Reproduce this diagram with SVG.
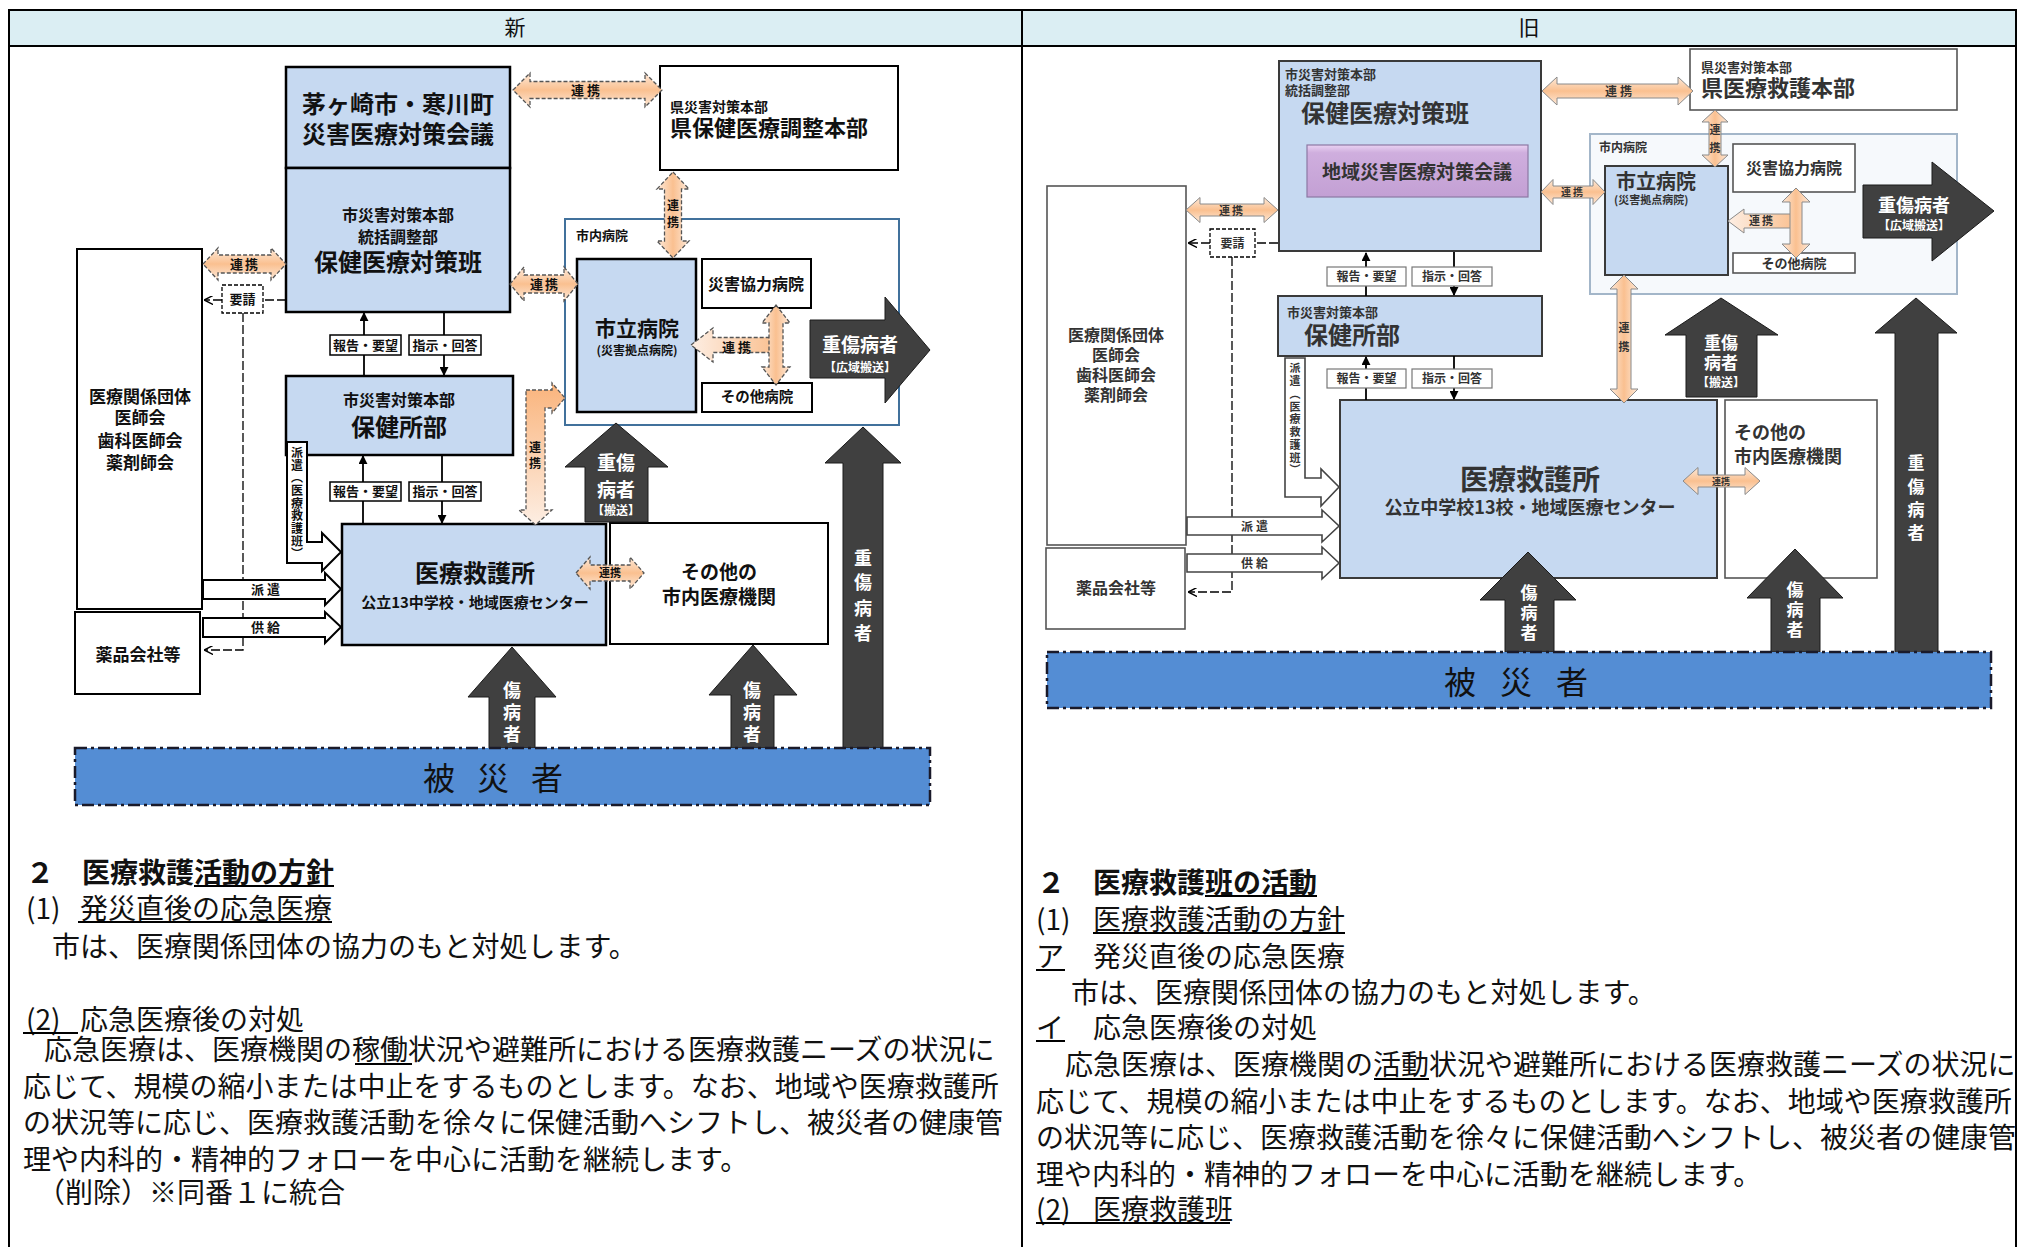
<svg xmlns="http://www.w3.org/2000/svg" width="2020" height="1247" viewBox="0 0 2020 1247">
<defs>
<style>
text{font-family:"Noto Sans CJK JP","Noto Sans CJK SC",sans-serif;fill:#111}
.b{font-weight:700}
.c{text-anchor:middle}
.w{fill:#fff}
.g{fill:#333}
.box{fill:#c6d9f1;stroke:#000;stroke-width:2.5}
.boxr{fill:#c6d9f1;stroke:#3a3a3a;stroke-width:2}
.wb{fill:#fff;stroke:#000;stroke-width:2}
.wbr{fill:#fff;stroke:#555;stroke-width:1.6}
.oh{fill:url(#ogh);stroke:#555;stroke-width:1.3;stroke-dasharray:4 2}
.ov{fill:url(#ogv);stroke:#555;stroke-width:1.3;stroke-dasharray:4 2}
.ohr{fill:url(#ogh);stroke:#8a8a8a;stroke-width:1}
.ovr{fill:url(#ogv);stroke:#8a8a8a;stroke-width:1}
.dk{fill:#404040;stroke:#1a1a1a;stroke-width:1}
.ol{fill:#fff;stroke:#000;stroke-width:2}
.olr{fill:#fff;stroke:#444;stroke-width:1.6}
.ln{stroke:#000;stroke-width:1.8;fill:none}
.dl{stroke:#000;stroke-width:1.3;fill:none;stroke-dasharray:9 3}
.lbl{fill:#fff;stroke:#000;stroke-width:1.5}
.lblr{fill:#fff;stroke:#777;stroke-width:1.2}
.dbox{fill:#fff;stroke:#000;stroke-width:1.3;stroke-dasharray:4 2}
.bar{fill:#548dd4;stroke:#1a1a2a;stroke-width:2.5;stroke-dasharray:12 4 3 4}
.body{font-size:28px}
.ul{stroke:#000;stroke-width:2}
</style>
<linearGradient id="ogh" x1="0" y1="0" x2="0" y2="1">
<stop offset="0" stop-color="#fde9d9"/><stop offset="0.5" stop-color="#fac090"/><stop offset="1" stop-color="#fde9d9"/>
</linearGradient>
<linearGradient id="ogv" x1="0" y1="0" x2="1" y2="0">
<stop offset="0" stop-color="#fde9d9"/><stop offset="0.5" stop-color="#fac090"/><stop offset="1" stop-color="#fde9d9"/>
</linearGradient>
<linearGradient id="ogd" x1="0" y1="0" x2="0" y2="1">
<stop offset="0" stop-color="#fab47c"/><stop offset="1" stop-color="#fdeee3"/>
</linearGradient>
<linearGradient id="ogl" x1="0" y1="0" x2="1" y2="0">
<stop offset="0" stop-color="#fdeee3"/><stop offset="1" stop-color="#fac090"/>
</linearGradient>
<linearGradient id="pg" x1="0" y1="0" x2="0" y2="1">
<stop offset="0" stop-color="#ead2f2"/><stop offset="0.15" stop-color="#cfaede"/><stop offset="1" stop-color="#c3a0d4"/>
</linearGradient>
<marker id="ah" viewBox="0 0 10 10" refX="9" refY="5" markerWidth="9" markerHeight="9" markerUnits="userSpaceOnUse" orient="auto"><path d="M0,0 L10,5 L0,10 Z" fill="#000"/></marker>
<marker id="ahd" viewBox="0 0 10 10" refX="9" refY="5" markerWidth="9" markerHeight="9" markerUnits="userSpaceOnUse" orient="auto"><path d="M0,0 L10,5 L0,10" fill="none" stroke="#000" stroke-width="1.6"/></marker>
</defs>

<!-- table frame -->
<g id="table">
<rect x="9" y="10" width="2007" height="36" fill="#dbeef3"/>
<path d="M9,1247 L9,10 L2016,10 L2016,1247" fill="none" stroke="#000" stroke-width="2"/>
<line x1="9" y1="46" x2="2016" y2="46" stroke="#000" stroke-width="2"/>
<line x1="1022" y1="10" x2="1022" y2="1247" stroke="#000" stroke-width="2"/>
<text x="515" y="35" class="c" font-size="21">新</text>
<text x="1529" y="35" class="c" font-size="21">旧</text>
</g>

<!-- ===== LEFT (新) nodes ===== -->
<g id="n-kaigi">
<rect class="box" x="286" y="67" width="224" height="101"/>
<text x="398" y="113" class="b c" font-size="24">茅ヶ崎市・寒川町</text>
<text x="398" y="143" class="b c" font-size="24">災害医療対策会議</text>
</g>
<g id="n-taisakuhan">
<rect class="box" x="286" y="168" width="224" height="144"/>
<text x="398" y="221" class="b c" font-size="16">市災害対策本部</text>
<text x="398" y="243" class="b c" font-size="16">統括調整部</text>
<text x="398" y="271" class="b c" font-size="24">保健医療対策班</text>
</g>
<g id="n-ken">
<rect class="wb" x="660" y="66" width="238" height="104" stroke-width="2.5"/>
<text x="670" y="112" class="b" font-size="14">県災害対策本部</text>
<text x="670" y="136" class="b" font-size="22">県保健医療調整本部</text>
</g>
<g id="n-shinai">
<rect x="565" y="219" width="334" height="206" fill="#fff" stroke="#41719c" stroke-width="2"/>
<text x="576" y="240" class="b" font-size="13">市内病院</text>
</g>
<g id="n-shiritsu">
<rect class="box" x="577" y="259" width="119" height="153"/>
<text x="637" y="336" class="b c" font-size="21">市立病院</text>
<text x="637" y="355" class="b c" font-size="12">(災害拠点病院)</text>
</g>
<g id="n-kyoryoku">
<rect class="wb" x="702" y="259" width="109" height="49" stroke-width="1.8"/>
<text x="756" y="290" class="b c" font-size="16">災害協力病院</text>
</g>
<g id="n-sonota-byoin">
<rect class="wb" x="702" y="383" width="110" height="29" stroke-width="1.8"/>
<text x="757" y="402" class="b c" font-size="14.5">その他病院</text>
</g>
<g id="n-dantai">
<rect class="wb" x="77" y="249" width="125" height="360"/>
<text x="140" y="403" class="b c" font-size="17">医療関係団体</text>
<text x="140" y="424" class="b c" font-size="17">医師会</text>
<text x="140" y="447" class="b c" font-size="17">歯科医師会</text>
<text x="140" y="469" class="b c" font-size="17">薬剤師会</text>
</g>
<g id="n-yakuhin">
<rect class="wb" x="75" y="612" width="125" height="82"/>
<text x="138" y="661" class="b c" font-size="17">薬品会社等</text>
</g>
<g id="n-hokenjo">
<rect class="box" x="286" y="376" width="227" height="79"/>
<text x="399" y="406" class="b c" font-size="16">市災害対策本部</text>
<text x="399" y="436" class="b c" font-size="24">保健所部</text>
</g>
<g id="n-kyugosho">
<rect class="box" x="342" y="524" width="264" height="121"/>
<text x="475" y="582" class="b c" font-size="24">医療救護所</text>
<text x="475" y="608" class="b c" font-size="15">公立13中学校・地域医療センター</text>
</g>
<g id="n-sonota-kikan">
<rect class="wb" x="610" y="523" width="218" height="121" stroke-width="1.8"/>
<text x="719" y="579" class="b c" font-size="19">その他の</text>
<text x="719" y="604" class="b c" font-size="19">市内医療機関</text>
</g>

<!-- ===== RIGHT (旧) nodes ===== -->
<g id="o-taisakuhan">
<rect class="boxr" x="1279" y="61" width="262" height="190"/>
<text x="1285" y="79" class="b g" font-size="13">市災害対策本部</text>
<text x="1285" y="95" class="b g" font-size="13">統括調整部</text>
<text x="1301" y="122" class="b g" font-size="24">保健医療対策班</text>
</g>
<g id="o-kaigi">
<rect x="1307" y="145" width="221" height="52" fill="url(#pg)" stroke="#8d78a3" stroke-width="1.2"/>
<text x="1417" y="179" class="b c g" font-size="19">地域災害医療対策会議</text>
</g>
<g id="o-ken">
<rect class="wbr" x="1690" y="49" width="267" height="61" stroke="#444" stroke-width="2"/>
<text x="1701" y="72" class="b g" font-size="13">県災害対策本部</text>
<text x="1701" y="96" class="b g" font-size="22">県医療救護本部</text>
</g>
<g id="o-shinai">
<rect x="1590" y="134" width="367" height="160" fill="#f6f9fc" stroke="#a3b6c9" stroke-width="2"/>
<text x="1599" y="152" class="b g" font-size="12">市内病院</text>
</g>
<g id="o-shiritsu">
<rect class="boxr" x="1605" y="166" width="123" height="109"/>
<text x="1616" y="189" class="b g" font-size="20">市立病院</text>
<text x="1614" y="204" class="b g" font-size="11">(災害拠点病院)</text>
</g>
<g id="o-kyoryoku">
<rect class="wbr" x="1733" y="144" width="122" height="48"/>
<text x="1794" y="174" class="b c g" font-size="16">災害協力病院</text>
</g>
<g id="o-sonota-byoin">
<rect class="wbr" x="1733" y="253" width="122" height="20"/>
<text x="1794" y="268" class="b c g" font-size="13">その他病院</text>
</g>
<g id="o-dantai">
<rect class="wbr" x="1047" y="186" width="139" height="359" stroke="#777"/>
<text x="1116" y="341" class="b c g" font-size="16">医療関係団体</text>
<text x="1116" y="361" class="b c g" font-size="16">医師会</text>
<text x="1116" y="381" class="b c g" font-size="16">歯科医師会</text>
<text x="1116" y="401" class="b c g" font-size="16">薬剤師会</text>
</g>
<g id="o-yakuhin">
<rect class="wbr" x="1046" y="548" width="139" height="81" stroke="#777"/>
<text x="1116" y="594" class="b c g" font-size="16">薬品会社等</text>
</g>
<g id="o-hokenjo">
<rect class="boxr" x="1278" y="296" width="264" height="60"/>
<text x="1287" y="317" class="b g" font-size="13">市災害対策本部</text>
<text x="1304" y="344" class="b g" font-size="24">保健所部</text>
</g>
<g id="o-kyugosho">
<rect class="boxr" x="1340" y="400" width="377" height="178"/>
<text x="1530" y="490" class="b c g" font-size="28">医療救護所</text>
<text x="1530" y="514" class="b c g" font-size="18">公立中学校13校・地域医療センター</text>
</g>
<g id="o-sonota-kikan">
<rect class="wbr" x="1725" y="400" width="152" height="178" stroke="#888"/>
<text x="1734" y="439" class="b g" font-size="18">その他の</text>
<text x="1734" y="463" class="b g" font-size="18">市内医療機関</text>
</g>

<!-- ===== connectors ===== -->
<g id="connectors">
<!-- left: orange 連携 -->
<path class="oh" d="M513,90 L530,73 L530,81.5 L645,81.5 L645,73 L662,90 L645,107 L645,98.5 L530,98.5 L530,107 Z"/>
<text x="587" y="95" class="b c" font-size="13" letter-spacing="3">連携</text>
<path class="ov" d="M673,172 L689,189 L681.5,189 L681.5,241 L689,241 L673,258 L657,241 L664.5,241 L664.5,189 L657,189 Z"/>
<text class="b c" font-size="12"><tspan x="673" y="210">連</tspan><tspan x="673" y="227">携</tspan></text>
<path class="oh" d="M203,264 L218,248 L218,255 L271,255 L271,248 L286,264 L271,280 L271,273 L218,273 L218,280 Z"/>
<text x="245" y="269" class="b c" font-size="13" letter-spacing="2">連携</text>
<path class="oh" d="M510,284 L524,267 L524,275 L564,275 L564,267 L578,284 L564,301 L564,293 L524,293 L524,301 Z"/>
<text x="545" y="289" class="b c" font-size="13" letter-spacing="2">連携</text>
<path class="oh" d="M576,573 L590,557 L590,565 L630,565 L630,557 L644,573 L630,589 L630,581 L590,581 L590,589 Z"/>
<text x="610" y="577" class="b c" font-size="11">連携</text>
<path d="M526,390 L552,390 L552,383 L565,398 L552,413 L552,408 L545,408 L545,510 L552,510 L535.5,525 L519,510 L526,510 Z" fill="url(#ogd)" stroke="#555" stroke-width="1.3" stroke-dasharray="4 2"/>
<text class="b c" font-size="12"><tspan x="535" y="452">連</tspan><tspan x="535" y="468">携</tspan></text>
<path d="M691,345 L713,328 L713,337.5 L776,337.5 L776,352.5 L713,352.5 L713,362 Z" fill="url(#ogl)" stroke="#555" stroke-width="1.3" stroke-dasharray="4 2"/>
<path class="ov" d="M776,305 L790,323 L783,323 L783,367 L790,367 L776,385 L762,367 L769,367 L769,323 L762,323 Z"/>
<text x="738" y="352" class="b c" font-size="13" letter-spacing="3">連携</text>

<!-- left: report/instruction arrows -->
<line class="ln" x1="364" y1="376" x2="364" y2="313" marker-end="url(#ah)"/>
<line class="ln" x1="444" y1="312" x2="444" y2="375" marker-end="url(#ah)"/>
<rect class="lbl" x="330" y="335" width="71" height="20"/>
<rect class="lbl" x="409" y="335" width="72" height="20"/>
<text x="365.5" y="350" class="b c" font-size="13">報告・要望</text>
<text x="445" y="350" class="b c" font-size="13">指示・回答</text>
<line class="ln" x1="363" y1="524" x2="363" y2="456" marker-end="url(#ah)"/>
<line class="ln" x1="442" y1="455" x2="442" y2="523" marker-end="url(#ah)"/>
<rect class="lbl" x="330" y="482" width="71" height="19"/>
<rect class="lbl" x="409" y="482" width="72" height="19"/>
<text x="365.5" y="496" class="b c" font-size="13">報告・要望</text>
<text x="445" y="496" class="b c" font-size="13">指示・回答</text>

<!-- left: 要請 dashed -->
<line class="dl" x1="286" y1="300" x2="263" y2="300"/>
<line class="dl" x1="222" y1="300" x2="205" y2="300" marker-end="url(#ahd)"/>
<rect class="dbox" x="222" y="285" width="41" height="28"/>
<text x="242.5" y="304" class="b c" font-size="13">要請</text>
<path class="dl" d="M243,313 L243,650 L205,650" marker-end="url(#ahd)"/>

<!-- left: outline arrows 派遣 / 供給 -->
<path class="ol" d="M287,442 L307,442 L307,542 L322,542 L322,533 L341,552 L322,571 L322,563 L287,563 Z"/>
<text class="b c" font-size="12"><tspan x="297" y="457">派</tspan><tspan x="297" y="470">遣</tspan><tspan x="297" y="482">︵</tspan><tspan x="297" y="495">医</tspan><tspan x="297" y="508">療</tspan><tspan x="297" y="520">救</tspan><tspan x="297" y="533">護</tspan><tspan x="297" y="546">班</tspan><tspan x="297" y="558">︶</tspan></text>
<path class="ol" d="M203,580 L325,580 L325,573 L341,589 L325,605 L325,599 L203,599 Z"/>
<text x="267" y="594" class="b c" font-size="13" letter-spacing="3">派遣</text>
<path class="ol" d="M203,618 L325,618 L325,612 L341,627 L325,643 L325,637 L203,637 Z"/>
<text x="267" y="632" class="b c" font-size="13" letter-spacing="3">供給</text>

<!-- left: dark arrows -->
<path class="dk" d="M810,320 L885,320 L885,297 L930,350 L885,403 L885,378 L810,378 Z"/>
<text x="860" y="352" class="b c w" font-size="19">重傷病者</text>
<text x="860" y="372" class="b c w" font-size="12">【広域搬送】</text>
<path class="dk" d="M616,423 L668,467 L648,467 L648,522 L585,522 L585,467 L565,467 Z"/>
<text x="616" y="470" class="b c w" font-size="19">重傷</text>
<text x="616" y="497" class="b c w" font-size="19">病者</text>
<text x="616" y="515" class="b c w" font-size="12">【搬送】</text>
<path class="dk" d="M863,427 L901,463 L883,463 L883,748 L843,748 L843,463 L825,463 Z"/>
<text class="b c w" font-size="18"><tspan x="863" y="565">重</tspan><tspan x="863" y="589">傷</tspan><tspan x="863" y="615">病</tspan><tspan x="863" y="640">者</tspan></text>
<path class="dk" d="M512,647 L556,697 L535,697 L535,748 L489,748 L489,697 L468,697 Z"/>
<text class="b c w" font-size="18"><tspan x="512" y="697">傷</tspan><tspan x="512" y="719">病</tspan><tspan x="512" y="741">者</tspan></text>
<path class="dk" d="M753,645 L797,695 L774,695 L774,748 L731,748 L731,695 L709,695 Z"/>
<text class="b c w" font-size="18"><tspan x="752" y="697">傷</tspan><tspan x="752" y="719">病</tspan><tspan x="752" y="741">者</tspan></text>

<!-- right: orange 連携 -->
<path class="ohr" d="M1542,91 L1557,77 L1557,84 L1678,84 L1678,77 L1693,91 L1678,105 L1678,98 L1557,98 L1557,105 Z"/>
<text x="1620" y="96" class="b c g" font-size="12" letter-spacing="3">連携</text>
<path class="ovr" d="M1715,110 L1728,122 L1721,122 L1721,155 L1728,155 L1715,167 L1702,155 L1709,155 L1709,122 L1702,122 Z"/>
<text class="b c g" font-size="11"><tspan x="1715" y="134">連</tspan><tspan x="1715" y="152">携</tspan></text>
<path class="ohr" d="M1186,210 L1200,197.5 L1200,204 L1264,204 L1264,197.5 L1278,210 L1264,222.5 L1264,216 L1200,216 L1200,222.5 Z"/>
<text x="1232" y="215" class="b c g" font-size="11" letter-spacing="2">連携</text>
<path class="ohr" d="M1541,192 L1553,179.5 L1553,186 L1593,186 L1593,179.5 L1605,192 L1593,204.5 L1593,198 L1553,198 L1553,204.5 Z"/>
<text x="1573" y="196" class="b c g" font-size="10" letter-spacing="2">連携</text>
<path d="M1728,221 L1744,209 L1744,214 L1796,214 L1796,228 L1744,228 L1744,233 Z" fill="url(#ogl)" stroke="#8a8a8a" stroke-width="1"/>
<path class="ovr" d="M1796,188 L1810,202 L1802,202 L1802,244 L1810,244 L1796,258 L1782,244 L1790,244 L1790,202 L1782,202 Z"/>
<text x="1762" y="225" class="b c g" font-size="11" letter-spacing="2">連携</text>
<path class="ovr" d="M1624,275 L1638,289 L1631,289 L1631,389 L1638,389 L1624,403 L1610,389 L1617,389 L1617,289 L1610,289 Z"/>
<text class="b c g" font-size="11"><tspan x="1624" y="332">連</tspan><tspan x="1624" y="351">携</tspan></text>
<path class="ohr" d="M1683,481 L1698,467.5 L1698,475 L1745,475 L1745,467.5 L1760,481 L1745,494.5 L1745,487 L1698,487 L1698,494.5 Z"/>
<text x="1721" y="485" class="b c g" font-size="9">連携</text>

<!-- right: report/instruction -->
<line class="ln" x1="1366" y1="296" x2="1366" y2="253" marker-end="url(#ah)"/>
<line class="ln" x1="1454" y1="252" x2="1454" y2="295" marker-end="url(#ah)"/>
<rect class="lblr" x="1327" y="267" width="79" height="19"/>
<rect class="lblr" x="1412" y="267" width="80" height="19"/>
<text x="1366.5" y="281" class="b c g" font-size="12">報告・要望</text>
<text x="1452" y="281" class="b c g" font-size="12">指示・回答</text>
<line class="ln" x1="1366" y1="400" x2="1366" y2="357" marker-end="url(#ah)"/>
<line class="ln" x1="1454" y1="356" x2="1454" y2="399" marker-end="url(#ah)"/>
<rect class="lblr" x="1327" y="369" width="79" height="19"/>
<rect class="lblr" x="1412" y="369" width="80" height="19"/>
<text x="1366.5" y="383" class="b c g" font-size="12">報告・要望</text>
<text x="1452" y="383" class="b c g" font-size="12">指示・回答</text>

<!-- right: 要請 -->
<line class="dl" x1="1278" y1="243" x2="1255" y2="243"/>
<line class="dl" x1="1210" y1="243" x2="1189" y2="243" marker-end="url(#ahd)"/>
<rect class="dbox" x="1210" y="229" width="45" height="28"/>
<text x="1232.5" y="248" class="b c g" font-size="12">要請</text>
<path class="dl" d="M1232,257 L1232,592 L1189,592" marker-end="url(#ahd)"/>

<!-- right: outline arrows -->
<path class="olr" d="M1285,358 L1305,358 L1305,478 L1321,478 L1321,469 L1339,487 L1321,506 L1321,497 L1285,497 Z"/>
<text class="b c g" font-size="11"><tspan x="1295" y="372">派</tspan><tspan x="1295" y="385">遣</tspan><tspan x="1295" y="398">︵</tspan><tspan x="1295" y="411">医</tspan><tspan x="1295" y="423">療</tspan><tspan x="1295" y="436">救</tspan><tspan x="1295" y="449">護</tspan><tspan x="1295" y="462">班</tspan><tspan x="1295" y="474">︶</tspan></text>
<path class="olr" d="M1187,517 L1322,517 L1322,510 L1339,526 L1322,542 L1322,535 L1187,535 Z"/>
<text x="1256" y="531" class="b c g" font-size="12" letter-spacing="3">派遣</text>
<path class="olr" d="M1187,554 L1322,554 L1322,547 L1339,563 L1322,579 L1322,572 L1187,572 Z"/>
<text x="1256" y="568" class="b c g" font-size="12" letter-spacing="3">供給</text>

<!-- right: dark arrows -->
<path class="dk" d="M1863,185 L1932,185 L1932,162 L1994,211 L1932,261 L1932,238 L1863,238 Z"/>
<text x="1914" y="212" class="b c w" font-size="18">重傷病者</text>
<text x="1914" y="230" class="b c w" font-size="12">【広域搬送】</text>
<path class="dk" d="M1721,298 L1778,335 L1757,335 L1757,397 L1686,397 L1686,335 L1665,335 Z"/>
<text x="1721" y="349" class="b c w" font-size="17">重傷</text>
<text x="1721" y="369" class="b c w" font-size="17">病者</text>
<text x="1721" y="387" class="b c w" font-size="12">【搬送】</text>
<path class="dk" d="M1916,298 L1957,333 L1938,333 L1938,653 L1895,653 L1895,333 L1875,333 Z"/>
<text class="b c w" font-size="17"><tspan x="1916" y="469">重</tspan><tspan x="1916" y="493">傷</tspan><tspan x="1916" y="516">病</tspan><tspan x="1916" y="539">者</tspan></text>
<path class="dk" d="M1528,552 L1576,600 L1554,600 L1554,652 L1505,652 L1505,600 L1480,600 Z"/>
<text class="b c w" font-size="17"><tspan x="1529" y="599">傷</tspan><tspan x="1529" y="619">病</tspan><tspan x="1529" y="639">者</tspan></text>
<path class="dk" d="M1795,549 L1843,598 L1820,598 L1820,652 L1771,652 L1771,598 L1747,598 Z"/>
<text class="b c w" font-size="17"><tspan x="1795" y="596">傷</tspan><tspan x="1795" y="616">病</tspan><tspan x="1795" y="636">者</tspan></text>
</g>

<!-- 被災者 bars -->
<g id="n-hisaisha">
<rect class="bar" x="75" y="748" width="855" height="57"/>
<text x="504" y="790" class="c" font-size="32" letter-spacing="22">被災者</text>
</g>
<g id="o-hisaisha">
<rect class="bar" x="1047" y="652" width="944" height="56"/>
<text x="1528" y="694" class="c" font-size="32" letter-spacing="24" fill="#1d2a3d">被災者</text>
</g>

<!-- ===== text: left (新) ===== -->
<g id="text-new">
<text x="26" y="883" class="body b">２　医療救護活動の方針</text>
<line class="ul" x1="194" y1="886" x2="334" y2="886"/>
<text x="26" y="919" class="body">(1)<tspan x="80">発災直後の応急医療</tspan></text>
<line class="ul" x1="78" y1="922" x2="332" y2="922" stroke-width="1.5"/>
<text x="52" y="957" class="body">市は、医療関係団体の協力のもと対処します。</text>
<text x="26" y="1030" class="body">(2)<tspan x="80">応急医療後の対処</tspan></text>
<line class="ul" x1="23" y1="1033" x2="78" y2="1033" stroke-width="1.5"/>
<text x="44" y="1060" class="body">応急医療は、医療機関の稼働状況や避難所における医療救護ニーズの状況に</text>
<line class="ul" x1="355" y1="1064" x2="412" y2="1064" stroke-width="1.5"/>
<text x="23" y="1097" class="body">応じて、規模の縮小または中止をするものとします。なお、地域や医療救護所</text>
<text x="23" y="1133" class="body">の状況等に応じ、医療救護活動を徐々に保健活動へシフトし、被災者の健康管</text>
<text x="23" y="1170" class="body">理や内科的・精神的フォローを中心に活動を継続します。</text>
<text x="37" y="1203" class="body">（削除）※同番１に統合</text>
</g>

<!-- ===== text: right (旧) ===== -->
<g id="text-old">
<text x="1037" y="893" class="body b">２　医療救護班の活動</text>
<line class="ul" x1="1205" y1="896" x2="1317" y2="896"/>
<text x="1036" y="930" class="body">(1)<tspan x="1093">医療救護活動の方針</tspan></text>
<line class="ul" x1="1093" y1="933" x2="1345" y2="933" stroke-width="1.5"/>
<text x="1036" y="967" class="body">ア<tspan x="1093">発災直後の応急医療</tspan></text>
<line class="ul" x1="1036" y1="970" x2="1065" y2="970" stroke-width="1.5"/>
<text x="1071" y="1003" class="body">市は、医療関係団体の協力のもと対処します。</text>
<text x="1036" y="1038" class="body">イ<tspan x="1093">応急医療後の対処</tspan></text>
<line class="ul" x1="1036" y1="1041" x2="1065" y2="1041" stroke-width="1.5"/>
<text x="1065" y="1075" class="body">応急医療は、医療機関の活動状況や避難所における医療救護ニーズの状況に</text>
<line class="ul" x1="1374" y1="1079" x2="1429" y2="1079" stroke-width="1.5"/>
<text x="1036" y="1112" class="body">応じて、規模の縮小または中止をするものとします。なお、地域や医療救護所</text>
<text x="1036" y="1148" class="body">の状況等に応じ、医療救護活動を徐々に保健活動へシフトし、被災者の健康管</text>
<text x="1036" y="1185" class="body">理や内科的・精神的フォローを中心に活動を継続します。</text>
<text x="1036" y="1220" class="body">(2)<tspan x="1093">医療救護班</tspan></text>
<line class="ul" x1="1036" y1="1223" x2="1230" y2="1223" stroke-width="1.5"/>
</g>
</svg>
